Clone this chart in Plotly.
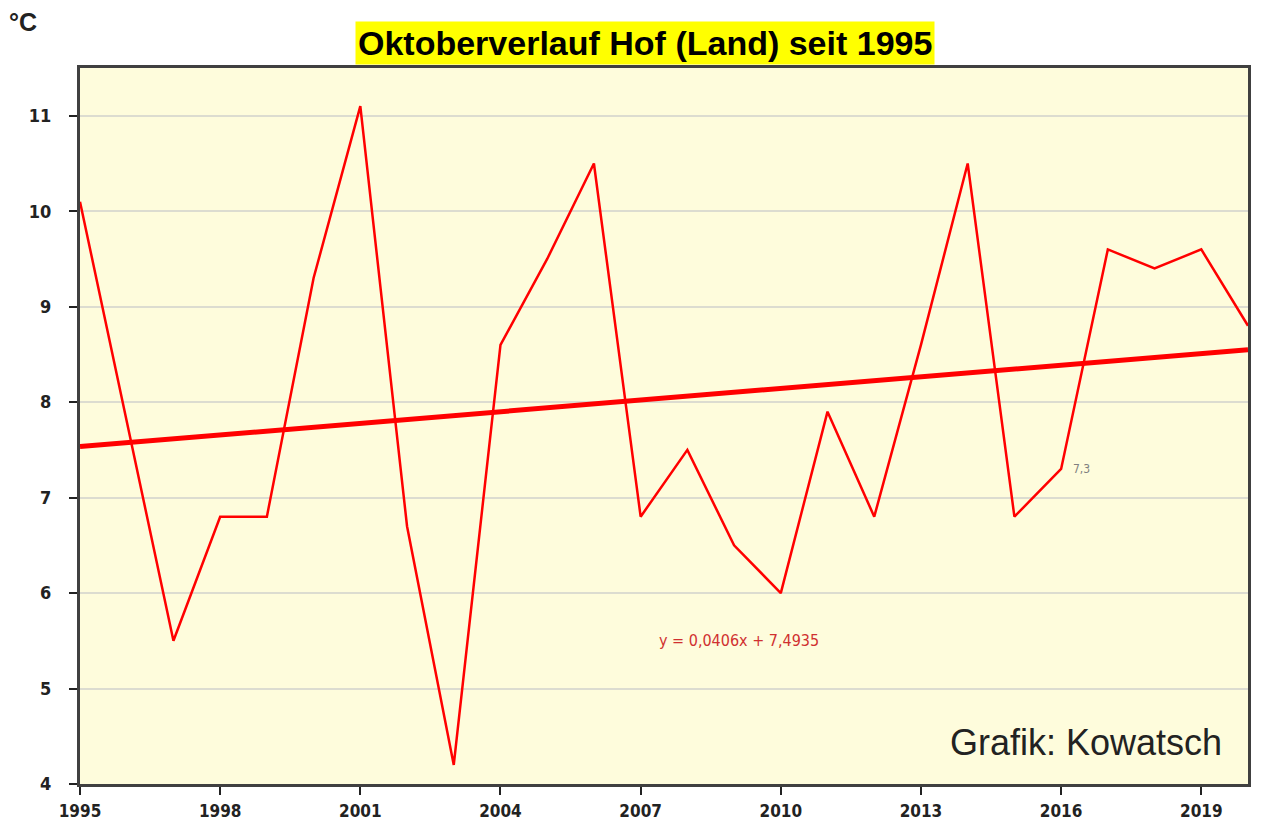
import plotly.graph_objects as go

years = list(range(1995, 2021))
temps = [10.1, 7.8, 5.5, 6.8, 6.8, 9.3, 11.1, 6.7, 4.2, 8.6, 9.5, 10.5, 6.8,
         7.5, 6.5, 6.0, 7.9, 6.8, 8.6, 10.5, 6.8, 7.3, 9.6, 9.4, 9.6, 8.8]
trend_slope = 0.0406
trend_intercept = 7.4935
x_ticks = [1995, 1998, 2001, 2004, 2007, 2010, 2013, 2016, 2019]
y_ticks = [4, 5, 6, 7, 8, 9, 10, 11]

trend = [trend_slope * (i + 1) + trend_intercept for i in range(len(years))]

OFF = 8  # page body margin
W, H = 1265, 816
L, R, T, B = 72, 25, 60, 40
pw, ph = W - L - R, H - T - B

def px_x(p):
    return (p - OFF - L) / pw

def px_y(p):
    return 1 - (p - OFF - T) / ph

fig = go.Figure()
fig.add_trace(go.Scatter(x=years, y=temps, mode="lines",
                         line=dict(color="#ff0000", width=2.5), showlegend=False))
fig.add_trace(go.Scatter(x=years, y=trend, mode="lines",
                         line=dict(color="#ff0000", width=5), showlegend=False))

tickfont = dict(family="DejaVu Sans Condensed, Liberation Sans Narrow", size=18,
                color="#222", weight="bold")
fig.update_layout(
    width=W, height=H,
    margin=dict(l=L, r=R, t=T, b=B),
    paper_bgcolor="white",
    plot_bgcolor="#fefcdc",
    font=dict(family="Liberation Sans", color="#222"),
    xaxis=dict(range=[1995, 2020], tickvals=x_ticks, showgrid=False,
               showline=True, mirror=True, linecolor="#404040", linewidth=3,
               ticks="outside", ticklen=8, tickwidth=2, tickcolor="#222",
               ticklabelstandoff=2, tickfont=dict(tickfont, size=17),
               zeroline=False, automargin=False),
    yaxis=dict(range=[4, 11.5], tickvals=y_ticks, showgrid=True,
               gridcolor="#dcdcd0", gridwidth=1.5,
               showline=True, mirror=True, linecolor="#404040", linewidth=3,
               ticks="outside", ticklen=8, tickwidth=2, tickcolor="#222",
               ticklabelstandoff=14, tickfont=tickfont, zeroline=False,
               automargin=False),
)

fig.add_annotation(text="<b>Oktoberverlauf Hof (Land) seit 1995</b>",
                   xref="paper", yref="paper", x=px_x(645), y=px_y(43),
                   xanchor="center", yanchor="middle", showarrow=False,
                   bgcolor="#ffff00", borderpad=2,
                   font=dict(family="Liberation Sans", size=34, color="#000"))
fig.add_annotation(text="<b>°C</b>", xref="paper", yref="paper",
                   x=px_x(7), y=px_y(22), xanchor="left", yanchor="middle",
                   showarrow=False, font=dict(family="Liberation Sans", size=25, color="#222"))
fig.add_annotation(text="Grafik: Kowatsch", xref="paper", yref="paper",
                   x=px_x(1224), y=px_y(742), xanchor="right", yanchor="middle",
                   showarrow=False, font=dict(family="Liberation Sans", size=36, color="#222"))
fig.add_annotation(text="y = 0,0406x + 7,4935", x=2009.1, y=5.5,
                   xanchor="center", yanchor="middle", showarrow=False,
                   font=dict(family="DejaVu Sans Condensed", size=16, color="#d03030"))
fig.add_annotation(text="7,3", x=years[21], y=temps[21], xshift=10,
                   xanchor="left", yanchor="middle", showarrow=False,
                   font=dict(family="DejaVu Sans Condensed", size=12, color="#808080"))

fig.add_shape(type="rect", xref="paper", yref="paper",
              x0=px_x(6), x1=px_x(1300), y0=px_y(900), y1=px_y(7),
              line=dict(color="#d8d8d8", width=1.5), layer="below")

fig.write_html("out.html")
